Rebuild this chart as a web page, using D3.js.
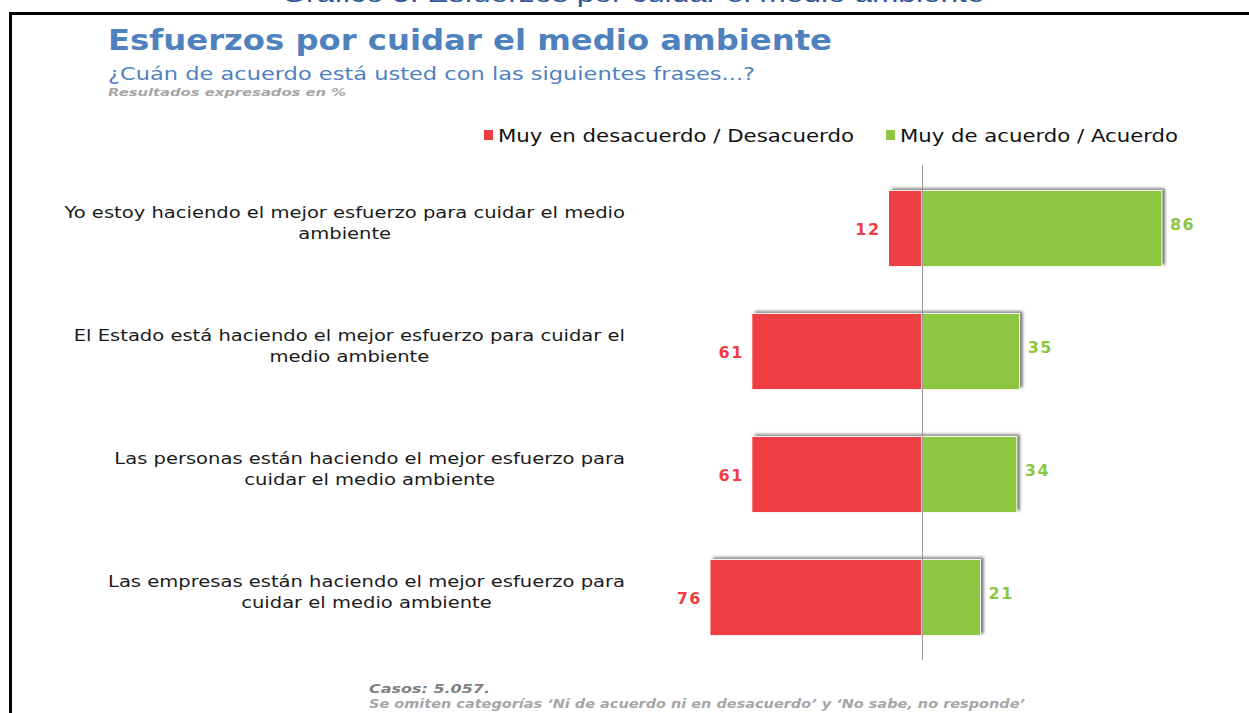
<!DOCTYPE html>
<html lang="es">
<head>
<meta charset="UTF-8">
<title>Esfuerzos por cuidar el medio ambiente</title>
<style>
  body { margin: 0; background: #fff; }
  svg { display: block; }
</style>
</head>
<body>
<svg></svg>
<script src="https://d3js.org/d3.v7.min.js"></script>
<script>
// datos
var categories = [
  "Yo estoy haciendo el mejor esfuerzo para cuidar el medio\nambiente",
  "El Estado está haciendo el mejor esfuerzo para cuidar el\nmedio ambiente",
  "Las personas están haciendo el mejor esfuerzo para\ncuidar el medio ambiente",
  "Las empresas están haciendo el mejor esfuerzo para\ncuidar el medio ambiente"
];
var desacuerdo = [12, 61, 61, 76];
var acuerdo = [86, 35, 34, 21];
var seriesNames = ["Muy en desacuerdo / Desacuerdo", "Muy de acuerdo / Acuerdo"];
var seriesColors = ["#ee3e42", "#8dc63f"];

var W = 1249, H = 713;
var svg = d3.select("svg").attr("width", W).attr("height", H);
var font = "'DejaVu Sans', Verdana, sans-serif";

// sombra de las barras
var defs = svg.append("defs");
var f = defs.append("filter").attr("id", "sh")
  .attr("x", "-10%").attr("y", "-20%").attr("width", "120%").attr("height", "140%");
f.append("feDropShadow").attr("dx", 3).attr("dy", -2).attr("stdDeviation", 1.5)
  .attr("flood-color", "#000").attr("flood-opacity", 0.55);

// estira el texto al ancho que se ve en la imagen
function fit(sel, w) {
  sel.attr("textLength", w).attr("lengthAdjust", "spacingAndGlyphs");
}

// titulo cortado arriba
svg.append("text").attr("x", 633).attr("y", 2).attr("text-anchor", "middle")
  .attr("font-family", "'Liberation Sans', Arial, sans-serif").attr("font-size", 24)
  .attr("fill", "#2f5597").text("Gráfico 5: Esfuerzos por cuidar el medio ambiente")
  .call(fit, 703);

// marco
svg.append("rect").attr("x", 10.5).attr("y", 13.5).attr("width", W + 20).attr("height", H + 20)
  .attr("fill", "none").attr("stroke", "#000").attr("stroke-width", 3);

svg.append("text").attr("x", 108).attr("y", 50)
  .attr("font-family", font).attr("font-weight", "bold").attr("font-size", 29)
  .attr("fill", "#4f81bd").text("Esfuerzos por cuidar el medio ambiente")
  .call(fit, 724);

svg.append("text").attr("x", 108).attr("y", 80)
  .attr("font-family", font).attr("font-size", 18)
  .attr("fill", "#4f81bd").text("¿Cuán de acuerdo está usted con las siguientes frases...?")
  .call(fit, 647);

svg.append("text").attr("x", 108).attr("y", 96)
  .attr("font-family", font).attr("font-weight", "bold").attr("font-style", "italic")
  .attr("font-size", 11).attr("fill", "#a6a6a6").text("Resultados expresados en %")
  .call(fit, 238);

// leyenda
var legX = [484, 886], legW = [356, 278];
seriesNames.forEach(function(n, i) {
  svg.append("rect").attr("x", legX[i]).attr("y", 130).attr("width", 9).attr("height", 10)
    .attr("fill", seriesColors[i]);
  svg.append("text").attr("x", legX[i] + 14).attr("y", 142)
    .attr("font-family", font).attr("font-size", 18).attr("fill", "#111")
    .text(n).call(fit, legW[i]);
});

// escalas
var x = d3.scaleLinear().domain([-100, 100]).range([922 - 279, 922 + 279]);
var y = d3.scaleBand().domain(d3.range(categories.length)).range([167, 659])
  .paddingInner(0.38).paddingOuter(0.19);

var g = svg.append("g");

var rows = g.selectAll(".row").data(categories).enter().append("g").attr("class", "row");

// barras
rows.append("rect")
  .attr("x", function(d, i) { return x(-desacuerdo[i]); })
  .attr("y", function(d, i) { return y(i); })
  .attr("width", function(d, i) { return x(acuerdo[i]) - x(-desacuerdo[i]); })
  .attr("height", y.bandwidth())
  .attr("fill", "#ccc").attr("filter", "url(#sh)");

rows.append("rect")
  .attr("x", function(d, i) { return x(-desacuerdo[i]); })
  .attr("y", function(d, i) { return y(i); })
  .attr("width", function(d, i) { return x(0) - x(-desacuerdo[i]); })
  .attr("height", y.bandwidth())
  .attr("fill", seriesColors[0]).attr("stroke", "#fff").attr("stroke-width", 1);

rows.append("rect")
  .attr("x", x(0))
  .attr("y", function(d, i) { return y(i); })
  .attr("width", function(d, i) { return x(acuerdo[i]) - x(0); })
  .attr("height", y.bandwidth())
  .attr("fill", seriesColors[1]).attr("stroke", "#fff").attr("stroke-width", 1);

// eje central
g.append("line").attr("x1", x(0) + 0.5).attr("x2", x(0) + 0.5)
  .attr("y1", 165).attr("y2", 660).attr("stroke", "#999").attr("stroke-width", 1);

// etiquetas de valores
rows.append("text")
  .attr("x", function(d, i) { return x(-desacuerdo[i]) - 8; })
  .attr("y", function(d, i) { return y(i) + y.bandwidth() / 2 + 6; })
  .attr("text-anchor", "end").attr("font-family", font).attr("font-weight", "bold")
  .attr("font-size", 16).attr("letter-spacing", 1.5).attr("fill", seriesColors[0])
  .text(function(d, i) { return desacuerdo[i]; });

rows.append("text")
  .attr("x", function(d, i) { return x(acuerdo[i]) + 8; })
  .attr("y", function(d, i) { return y(i) + y.bandwidth() / 2 + 1; })
  .attr("font-family", font).attr("font-weight", "bold")
  .attr("font-size", 16).attr("letter-spacing", 1.5).attr("fill", seriesColors[1])
  .text(function(d, i) { return acuerdo[i]; });

// etiquetas de categorias: bloque alineado a la derecha, lineas centradas
var labelRight = 625;
rows.append("text")
  .attr("text-anchor", "middle").attr("font-family", font).attr("font-size", 16)
  .attr("fill", "#1a1a1a")
  .each(function(d, i) {
    var t = d3.select(this);
    var cy = y(i) + y.bandwidth() / 2;
    var spans = [], maxW = 0;
    d.split("\n").forEach(function(line, k) {
      var ts = t.append("tspan").attr("y", cy - 11 + k * 21).text(line);
      var len = ts.node().getComputedTextLength() * 1.22;
      ts.attr("textLength", len).attr("lengthAdjust", "spacingAndGlyphs");
      maxW = Math.max(maxW, len);
      spans.push(ts);
    });
    spans.forEach(function(ts) { ts.attr("x", labelRight - maxW / 2); });
  });

// notas
svg.append("text").attr("x", 369).attr("y", 693)
  .attr("font-family", font).attr("font-weight", "bold").attr("font-style", "italic")
  .attr("font-size", 13).attr("fill", "#808080").text("Casos: 5.057.")
  .call(fit, 121);
svg.append("text").attr("x", 369).attr("y", 708)
  .attr("font-family", font).attr("font-weight", "bold").attr("font-style", "italic")
  .attr("font-size", 12).attr("fill", "#a6a6a6")
  .text("Se omiten categorías ‘Ni de acuerdo ni en desacuerdo’ y ‘No sabe, no responde’")
  .call(fit, 656);
</script>
</body>
</html>
